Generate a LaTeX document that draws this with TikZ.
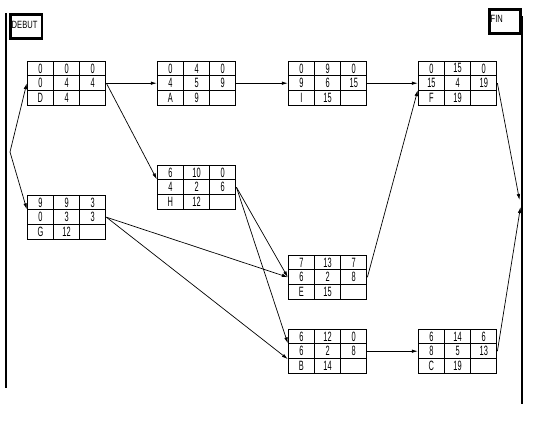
\documentclass[tikz,border=0pt]{standalone}
\usepackage{fontspec}
\usetikzlibrary{arrows.meta}
\newfontfamily\fontcase[FakeStretch=0.55]{Liberation Sans}
\newfontfamily\fontetiq[FakeStretch=0.72]{Liberation Sans}
\begin{document}
\begin{tikzpicture}[x=1pt,y=-1pt]

    \tikzset{
      case/.style={
        draw,
        line width=1pt,
        minimum width=26.2pt,
        minimum height=14.8pt,
        inner sep=0pt,
        font=\fontcase\fontsize{13.5}{14}\selectfont,
      },
      etiquette/.style={
        draw,
        line width=2.5pt,
        inner sep=0pt,
        align=left,
        font=\fontetiq\fontsize{10.5}{11}\selectfont,
      },
      fleche/.style={
        line width=0.7pt,
        -{Latex[length=6pt,width=3.5pt]},
      },
    }
    \useasboundingbox (0,0) rectangle (550,421);

	% bornes
	\draw[line width=2.5pt] (6,13.3)--(6,388);
	\draw[line width=2.5pt] (522,16)--(522,404);
	\node[etiquette,minimum width=31.5pt,minimum height=24.2pt,text width=29pt,text depth=4pt] (debut) at (26.25,26.6) {DEBUT};
	\node[etiquette,minimum width=31pt,minimum height=23.6pt,text width=29pt,text depth=5pt] (fin) at (505.2,21.5) {FIN};

	% taches
	\foreach \n/\x/\y/\a/\b/\c/\d/\e/\f/\g/\h in {
	  D/27.3/61/0/0/0/0/4/4/D/4,
	  A/157.3/61/0/4/0/4/5/9/A/9,
	  I/288.3/61/0/9/0/9/6/15/I/15,
	  F/418.3/61/0/15/0/15/4/19/F/19,
	  H/157.3/165/6/10/0/4/2/6/H/12,
	  G/27.3/195/9/9/3/0/3/3/G/12,
	  E/288.3/255/7/13/7/6/2/8/E/15,
	  B/288.3/329/6/12/0/6/2/8/B/14,
	  C/418.3/329/6/14/6/8/5/13/C/19}{
	  \node[case] (\n-1-1) at (\x+13.1,\y+7.4) {\a};
	  \node[case] (\n-1-2) at (\x+39.3,\y+7.4) {\b};
	  \node[case] (\n-1-3) at (\x+65.5,\y+7.4) {\c};
	  \node[case] (\n-2-1) at (\x+13.1,\y+22.2) {\d};
	  \node[case] (\n-2-2) at (\x+39.3,\y+22.2) {\e};
	  \node[case] (\n-2-3) at (\x+65.5,\y+22.2) {\f};
	  \node[case] (\n-3-1) at (\x+13.1,\y+37) {\g};
	  \node[case] (\n-3-2) at (\x+39.3,\y+37) {\h};
	  \node[case] (\n-3-3) at (\x+65.5,\y+37) {};
	}

	\coordinate (depart) at (10,152);
	\coordinate (arrivee1) at (519.5,200);
	\coordinate (arrivee2) at (520.5,207);

	% liaisons
	\draw[fleche] (depart) -- (D-2-1.west);
	\draw[fleche] (depart) -- (G-2-1.north west);
	\draw[fleche] (D-2-3.east) -- (A-2-1.west);
	\draw[fleche] (D-2-3.east) -- (H-2-1.north west);
	\draw[fleche] (A-2-3.east) -- (I-2-1.west);
	\draw[fleche] (I-2-3.east) -- (F-2-1.west);
	\draw[fleche] (H-2-3.east) -- (E-2-1.west);
	\draw[fleche] (H-2-3.east) -- (B-2-1.north west);
	\draw[fleche] (G-2-3.east) -- (E-2-1.west);
	\draw[fleche] (G-2-3.east) -- (B-2-1.south west);
	\draw[fleche] (E-2-3.east) -- (F-3-1.north west);
	\draw[fleche] (B-2-3.east) -- (C-2-1.west);
	\draw[fleche] (F-2-3.east) -- (arrivee1);
	\draw[fleche] (C-2-3.east) -- (arrivee2);

\end{tikzpicture}
\end{document}
